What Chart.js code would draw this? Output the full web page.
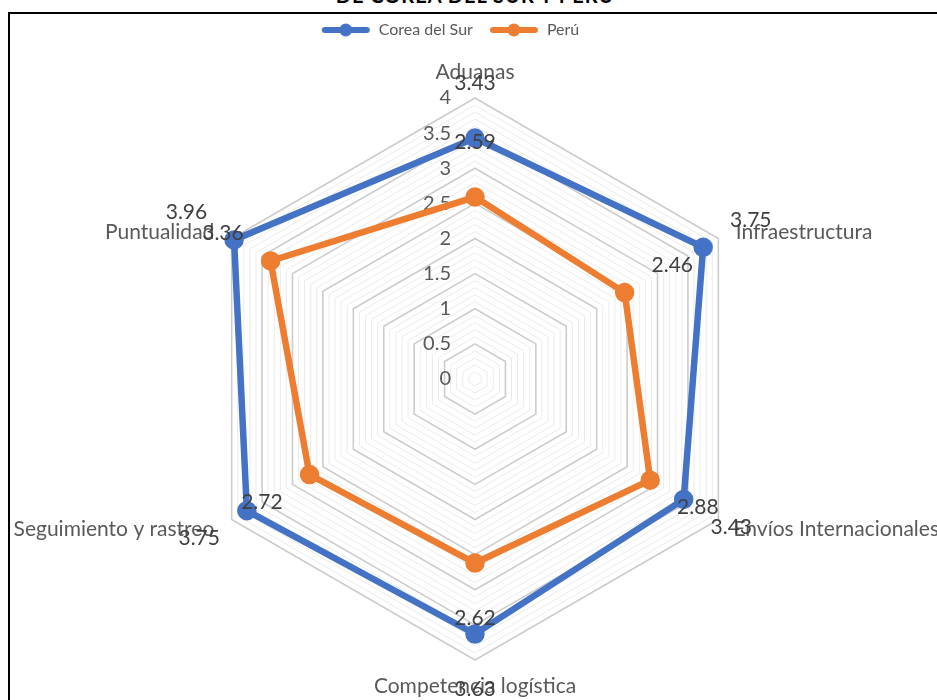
<!DOCTYPE html>
<html lang="es">
<head>
<meta charset="utf-8">
<title>Corea del Sur y Perú</title>
<script src="https://cdn.jsdelivr.net/npm/chart.js@4.4.1/dist/chart.umd.min.js"></script>
<style>
  html, body { margin: 0; padding: 0; background: #fff; overflow: hidden; }
  body { width: 937px; height: 700px; position: relative; }
  #frame {
    position: absolute; left: 8px; top: 12px; width: 1000px; height: 1000px;
    border: 2px solid #000;
  }
  #cut-title {
    position: absolute; left: 275px; width: 400px; top: -15px;
    text-align: center; font: bold 20px Lato, sans-serif; line-height: 20px;
    letter-spacing: 1px; color: #000; white-space: nowrap;
  }
  #radar { position: absolute; left: 0; top: 0; }
</style>
</head>
<body>
<div id="frame"></div>
<div id="cut-title">DE COREA DEL SUR Y PERÚ</div>
<canvas id="radar" width="937" height="700"></canvas>
<script>
// Chart data
const categories = ['Aduanas', 'Infraestructura', 'Envíos Internacionales', 'Competencia logística', 'Seguimiento y rastreo', 'Puntualidad'];
const coreaValues = [3.43, 3.75, 3.43, 3.63, 3.75, 3.96];
const peruValues = [2.59, 2.46, 2.88, 2.62, 2.72, 3.36];
const tickValues = [0, 0.5, 1, 1.5, 2, 2.5, 3, 3.5, 4];

const BLUE = '#4472C4';
const ORANGE = '#ED7D31';
const TEXT = '#595959';
const FONT = '21px Lato, sans-serif';
const TICK_FONT = '20px Lato, sans-serif';

// legend marker: thick line with a dot in the middle
const makeIcon = (color) => {
    const c = document.createElement('canvas');
    c.width = 50;
    c.height = 18;
    const g = c.getContext('2d');
    g.strokeStyle = color;
    g.lineWidth = 6;
    g.lineCap = 'round';
    g.beginPath();
    g.moveTo(4, 9);
    g.lineTo(46, 9);
    g.stroke();
    g.fillStyle = color;
    g.beginPath();
    g.arc(25, 9, 6.5, 0, Math.PI * 2);
    g.fill();
    return c;
};
const legendIcons = [makeIcon(BLUE), makeIcon(ORANGE)];

const isMajor = (v) => Math.abs(v * 2 - Math.round(v * 2)) < 1e-6;

// axis numbers, category names and value labels, placed like Excel does
const radarText = {
    id: 'radarText',
    beforeDatasetsDraw(chart) {
        const r = chart.scales.r;
        const ctx = chart.ctx;
        ctx.save();
        ctx.fillStyle = TEXT;
        ctx.textBaseline = 'middle';

        ctx.font = TICK_FONT;
        ctx.textAlign = 'right';
        tickValues.forEach((v) => {
            ctx.fillText(String(v), r.xCenter - 24, r.yCenter - r.getDistanceFromCenterForValue(v));
        });

        ctx.font = FONT;
        categories.forEach((name, i) => {
            const a = r.getPointPosition(i, 0).angle;
            const side = Math.abs(Math.cos(a)) > 0.01;
            const p = r.getPointPosition(i, r.drawingArea + (side ? 20 : 26));
            let x = p.x;
            if (!side) {
                ctx.textAlign = 'center';
            } else if (Math.cos(a) > 0) {
                ctx.textAlign = 'left';
                const w = ctx.measureText(name).width;
                if (x + w > chart.width + 2) x = chart.width + 2 - w;
            } else {
                ctx.textAlign = 'right';
            }
            ctx.fillText(name, x, p.y + (side && Math.sin(a) < 0 ? 4 : 0));
        });
        ctx.restore();
    },
    afterDatasetsDraw(chart) {
        const r = chart.scales.r;
        const ctx = chart.ctx;
        ctx.save();
        ctx.font = FONT;
        ctx.fillStyle = '#404040';
        ctx.textAlign = 'center';
        ctx.textBaseline = 'middle';
        chart.data.datasets.forEach((ds) => {
            ds.data.forEach((v, i) => {
                const p = r.getPointPosition(i, r.getDistanceFromCenterForValue(v) + 55);
                ctx.fillText(v.toFixed(2), p.x, p.y);
            });
        });
        ctx.restore();
    }
};

new Chart(document.getElementById('radar'), {
    type: 'radar',
    data: {
        labels: categories,
        datasets: [
            {
                label: 'Corea del Sur',
                data: coreaValues,
                borderColor: BLUE,
                backgroundColor: BLUE,
                pointBackgroundColor: BLUE,
                pointBorderColor: BLUE,
                borderWidth: 6.5,
                pointRadius: 6.5,
                fill: false,
            },
            {
                label: 'Perú',
                data: peruValues,
                borderColor: ORANGE,
                backgroundColor: ORANGE,
                pointBackgroundColor: ORANGE,
                pointBorderColor: ORANGE,
                borderWidth: 6.5,
                pointRadius: 6.5,
                fill: false,
            },
        ],
    },
    options: {
        responsive: false,
        animation: false,
        devicePixelRatio: 1,
        layout: { padding: { top: 6, left: 125, right: 162, bottom: 40 } },
        scales: {
            r: {
                min: 0,
                max: 4,
                angleLines: { display: false },
                pointLabels: { display: false },
                ticks: { display: false, stepSize: 0.1 },
                grid: {
                    color: (ctx) => (isMajor(ctx.tick.value) ? '#cccccc' : '#ebebeb'),
                    lineWidth: (ctx) => (isMajor(ctx.tick.value) ? 1.6 : 1),
                },
            },
        },
        plugins: {
            legend: {
                position: 'top',
                labels: {
                    usePointStyle: true,
                    pointStyleWidth: 50,
                    padding: 16,
                    color: TEXT,
                    font: { family: 'Lato', size: 16 },
                    generateLabels: (chart) => {
                        const items = Chart.defaults.plugins.legend.labels.generateLabels(chart);
                        items.forEach((item, i) => { item.pointStyle = legendIcons[i]; });
                        return items;
                    },
                },
            },
            // empty boxes used only as spacers around the plot
            title: { display: true, text: ' ', position: 'left', font: { size: 10 }, padding: { top: 38, bottom: 0 } },
            subtitle: { display: true, text: ' ', position: 'top', weight: 500, font: { size: 10 }, padding: { top: 0, bottom: 38 } },
            tooltip: { enabled: false },
        },
    },
    plugins: [radarText],
});
</script>
</body>
</html>
